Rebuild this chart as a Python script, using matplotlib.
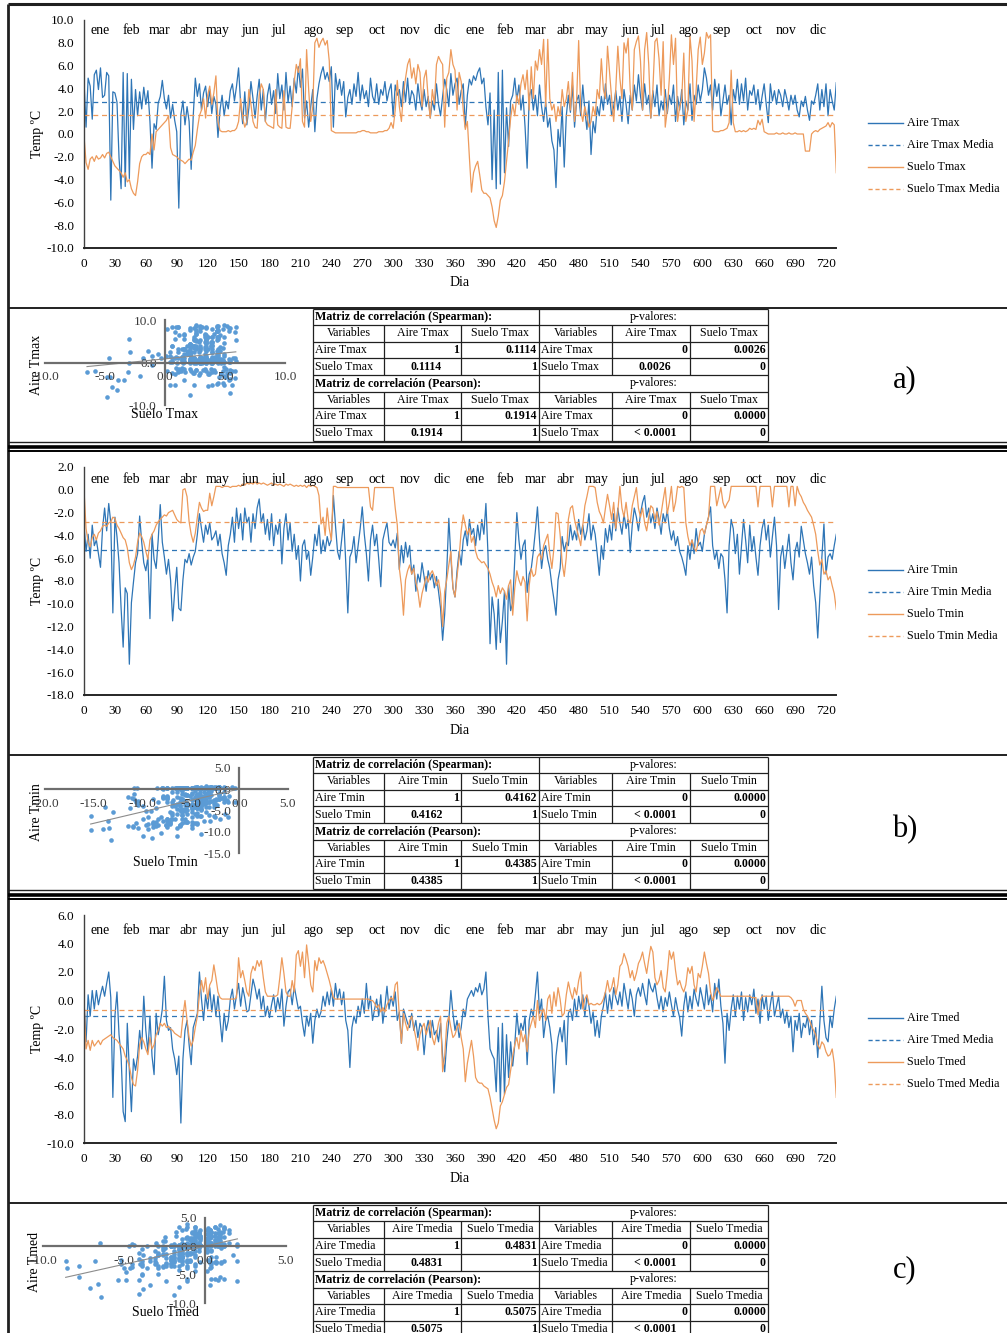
import numpy as np
import matplotlib.pyplot as plt
from matplotlib.ticker import FormatStrFormatter

W, H = 1007, 1333
plt.rcParams['font.family'] = ['Liberation Serif', 'DejaVu Serif']

AZUL = '#2E75B6'
NARANJA = '#ED9A5B'
PUNTO = '#5B9BD5'

# dia del registro (cada 2 dias)
dias = np.arange(0, 731, 2)

aire_tmax = [
    4.7, 0.6, 4.9, 4.2, 1.3, 5.2, 5.6, 3.9, 5.8, 3.2, 3.4, 5.4, 5.1, -5.8, 3.7,
    3.6, 2.8, -2.1, -4.8, 5.4, -4.6, 5.3, -3.9, 4.8, 0.4, 3.9, 1.6, 3.7, 2.2, 4.1,
    2.6, 3.8, 1.1, -3.0, 0.9, 0.4, 2.7, 3.3, 4.7, 3.1, 2.2, 3.4, 1.4, 2.6, 1.2,
    0.2, -6.5, 1.7, 2.9, 0.8, 2.4, 1.1, -3.1, 1.6, 4.9, 3.3, 4.4, 2.1, 3.6, 4.2,
    2.4, 3.9, 1.8, 3.3, 2.6, -0.3, 2.1, 3.4, 1.6, 2.9, 2.2, 3.8, 4.4, 2.9, 4.2,
    5.8, 2.6, 0.9, 3.7, 0.8, 2.3, 4.6, 3.1, 1.4, 3.3, 4.8, 2.1, 3.9, 1.1, 3.4,
    4.4, 2.6, 3.8, 1.8, 5.3, 3.1, 4.3, 2.1, 5.4, 2.8, 4.2, 2.4, 4.9, 3.6, 5.9,
    4.1, 5.7, 1.4, 2.9, 0.6, 2.4, 3.9, 0.2, 3.1, 4.4, 5.3, 5.9, 4.8, 5.4, 4.6,
    5.9, 0.6, 5.3, 3.9, 4.8, 3.4, 4.6, 1.5, 3.2, 3.9, 2.6, 4.4, 3.3, 5.4, 2.9,
    4.3, 3.1, 3.8, 2.4, 4.9, 3.3, 2.8, 4.4, 2.6, 3.9, 3.4, 4.6, 2.9, 3.8, 4.4,
    1.5, 4.3, 3.4, 3.9, 2.4, 4.6, 2.8, 4.9, 2.6, 3.8, 3.4, 2.1, 4.4, 2.9, 2.1,
    3.9, 2.4, 3.3, 1.4, 2.9, 2.1, 4.4, 2.6, 1.6, 3.3, 4.8, 3.9, 2.4, 5.3, 3.4,
    4.4, 4.9, 2.6, 3.8, 4.4, 0.6, 3.4, 4.8, 4.3, 5.1, 4.7, 5.4, 5.8, 4.4, 4.9,
    2.4, 0.8, 3.6, -4.0, 2.1, -4.8, 5.4, -4.4, 5.6, -3.4, 2.3, -1.1, 2.9, 3.4, 4.9,
    2.9, 4.3, 2.1, 3.4, 0.6, -3.0, 3.3, 3.9, 2.1, 3.4, 1.6, 4.3, 2.4, 1.1, 2.8,
    0.6, 1.4, -0.6, -1.4, -4.7, 0.4, -1.1, 2.4, -2.9, 1.6, 3.4, 1.9, 4.3, 0.6, 2.9,
    3.4, 1.6, 4.3, 2.1, 0.4, 2.9, -1.8, 1.1, 0.1, 2.4, 1.6, 3.3, 2.1, 4.4, 2.6,
    3.4, 1.6, 2.4, 3.8, 2.1, 3.3, 1.1, 3.9, 2.6, 0.9, 3.4, 2.1, 4.3, 2.9, 5.2,
    3.3, 2.1, 4.4, 2.6, 3.4, 1.4, 3.8, 2.4, 4.3, 1.6, 2.9, 2.1, 3.9, 1.8, 3.4,
    2.6, 4.3, 1.1, 3.3, 2.1, 3.9, 0.8, 2.9, 2.1, 4.4, 1.2, 3.4, 2.6, 4.3, 2.9,
    3.9, 5.8, 4.9, 3.4, 4.3, 2.1, 4.8, 3.3, 4.4, 1.6, 2.9, 4.3, 2.6, 3.4, 0.8,
    3.9, 2.9, 4.8, 2.6, 4.4, 2.9, 4.9, 2.1, 3.8, 3.4, 4.3, 2.6, 3.9, 2.1, 3.3,
    4.4, 2.6, 1.0, 4.4, 2.9, 3.8, 2.6, 3.9, 3.4, 2.4, 3.9, 3.1, 2.1, 3.4, 2.6,
    3.4, 2.1, 1.5, 2.9, 2.4, 3.3, 2.1, 1.2, 2.9, 2.6, 3.4, 4.4, 2.1, 3.9, 2.4,
    4.4, 1.6, 3.9, 2.9, 2.1, 4.5,
]

suelo_tmax = [
    -0.2, -2.5, -3.1, -2.2, -2.0, -2.4, -1.9, -2.2, -2.1, -1.8, -2.1, -1.7, -1.6, -2.0, -2.4,
    -2.8, -3.0, -3.2, -3.4, -3.8, -3.4, -4.2, -4.0, -4.8, -5.2, -5.4, -4.2, -2.6, -2.0, -1.8,
    -1.8, -1.6, -1.8, 0.0, -1.4, 0.2, 0.4, 0.6, 0.8, 1.0, 1.2, 1.6, -1.2, -1.8, -1.9,
    -2.0, -2.2, -2.3, -2.4, -2.6, -2.4, -2.2, -2.3, -1.6, -1.0, 0.4, 1.6, 2.1, 3.1, 1.4,
    3.4, 4.2, 2.6, 3.6, 5.1, 1.1, 0.3, 0.2, 0.2, 0.2, 0.3, 0.2, 0.3, 0.3, 0.5,
    1.1, 3.1, 1.4, 0.6, 1.1, 3.9, 2.6, 1.1, 0.6, 0.5, 3.4, 4.4, 3.9, 1.1, 0.8,
    0.7, 0.6, 0.5, 3.9, 0.8, 0.6, 0.5, 3.8, 0.6, 0.5, 0.5, 2.4, 4.6, 6.1, 5.4,
    6.6, 1.1, 0.6, 7.4, 3.9, 1.1, 2.4, 8.0, 8.4, 7.6, 8.1, 8.4, 7.8, 8.2, 6.4,
    0.3, 0.2, 0.1, 0.1, 0.1, 0.1, 0.1, 0.1, 0.1, 0.1, 0.1, 0.1, 0.1, 0.2, 0.2,
    0.3, 0.3, 0.2, 0.2, 0.1, 0.1, 0.1, 0.1, 0.2, 0.2, 0.2, 0.3, 0.3, 0.5, 1.0,
    0.5, 2.1, 4.7, 2.4, 1.1, 3.6, 4.9, 6.1, 6.6, 4.9, 5.8, 4.4, 6.1, 5.4, 2.4,
    4.9, 5.6, 3.1, 1.4, 3.9, 2.6, 6.1, 6.8, 6.4, 6.1, 0.6, 4.9, 5.4, 7.4, 6.1,
    5.6, 2.1, 5.4, 4.6, 2.1, 0.4, 1.1, -2.1, -5.1, -3.4, -2.8, -2.4, -3.6, -4.9, -5.2,
    -5.2, -5.4, -5.6, -6.4, -7.6, -8.2, -7.2, -5.8, -5.4, -4.2, -2.4, -0.6, 1.4, 2.6, 1.6,
    3.4, 2.6, 4.4, 5.2, 3.9, 5.6, 2.1, 5.9, 3.1, 6.4, 5.6, 7.4, 6.1, 8.3, 2.4,
    8.3, 3.1, 2.1, 2.6, 1.1, 2.4, 1.6, 3.9, 2.4, 3.1, 4.6, 2.1, 5.4, 1.1, 2.9,
    8.2, 2.1, 1.1, 2.4, 1.6, 0.6, 1.1, 2.4, 1.6, 3.9, 3.1, 6.6, 3.9, 3.1, 7.7,
    5.4, 3.1, 1.1, 3.9, 7.7, 4.9, 3.1, 8.0, 7.1, 8.4, 3.9, 2.1, 7.4, 8.1, 8.6,
    6.4, 2.1, 7.4, 8.9, 6.1, 1.4, 3.9, 8.1, 8.4, 6.6, 3.4, 8.1, 0.6, 2.1, 4.9,
    8.7, 6.1, 8.4, 1.1, 2.4, 3.1, 7.1, 1.1, 2.1, 8.6, 6.4, 1.1, 3.9, 7.4, 8.5,
    6.1, 7.1, 8.9, 8.4, 8.7, 0.3, 0.2, 0.2, 0.2, 0.3, 0.3, 0.4, 0.5, 1.0, 5.6,
    1.0, 0.2, 0.2, 0.3, 0.2, 0.3, 0.2, 0.3, 0.5, 0.4, 0.5, 0.4, 1.2, 0.8, 1.3,
    0.2, 0.1, 0.0, 0.0, 0.0, 0.0, 0.1, 0.0, 0.0, 0.1, 0.0, 0.0, 0.1, 0.0, 0.0,
    0.1, 0.0, 0.0, 0.0, 0.0, -1.5, -1.5, -1.5, 0.0, 0.2, 0.3, 0.2, 0.4, 0.5, 0.6,
    0.7, 1.0, 0.6, 1.0, 0.8, -3.4,
]

aire_tmin = [
    -3.1, -5.4, -3.9, -6.0, -3.1, -4.9, -4.4, -5.6, -6.8, -3.4, -1.6, -3.6, -1.2, -2.9, -10.8,
    -2.4, -4.1, -6.4, -10.4, -13.8, -8.6, -9.1, -15.3, -9.9, -8.1, -6.4, -5.6, -2.3, -4.6, -6.4,
    -7.1, -5.9, -11.3, -3.9, -6.1, -6.9, -4.4, -1.3, -4.6, -5.9, -7.4, -6.1, -7.9, -11.5, -8.9,
    -6.8, -10.4, -10.6, -7.9, -6.1, -6.4, -5.6, -6.6, -5.9, -5.4, -3.9, -2.1, -3.4, -4.6, -3.1,
    -3.9, -2.9, -4.4, -4.1, -3.6, -4.9, -3.9, -5.6, -6.4, -7.5, -4.9, -3.9, -2.4, -4.6, -1.6,
    -3.4, -2.1, -4.4, -1.6, -2.9, -2.4, -4.6, -2.1, -3.4, -1.6, -0.8, -2.9, -2.1, -3.9, -2.6,
    -4.4, -2.1, -4.9, -3.1, -3.9, -2.6, -6.5, -3.4, -2.1, -4.4, -2.9, -5.4, -3.9, -6.1, -4.9,
    -8.0, -4.9, -4.4, -6.1, -5.4, -7.5, -5.9, -3.9, -4.9, -3.1, -5.6, -4.4, -5.4, -4.1, -4.9,
    -4.4, -0.5, -3.1, -5.4, -6.1, -4.4, -2.6, -6.4, -10.8, -5.9, -5.4, -4.1, -6.4, -4.9, -3.4,
    -1.5, -3.9, -5.6, -8.0, -4.4, -3.1, -4.9, -3.9, -6.1, -8.5, -4.4, -3.6, -2.9, -4.6, -4.9,
    -4.4, -5.1, -3.8, -7.0, -4.9, -6.4, -4.6, -5.9, -4.9, -7.4, -6.6, -8.9, -7.4, -8.1, -6.4,
    -7.6, -8.9, -7.1, -7.9, -7.4, -8.6, -7.6, -8.9, -10.4, -13.2, -10.9, -7.1, -2.5, -5.9, -8.6,
    -9.4, -7.1, -5.4, -6.6, -4.4, -3.6, -4.9, -2.6, -3.9, -3.4, -4.9, -3.1, -4.4, -2.6, -3.9,
    -1.2, -5.6, -13.5, -9.4, -10.9, -14.0, -9.6, -13.4, -11.5, -8.9, -15.3, -8.4, -10.6, -9.9, -6.1,
    -2.0, -4.4, -6.1, -4.9, -4.4, -9.0, -7.4, -6.9, -5.4, -3.6, -1.5, -4.4, -6.9, -5.4, -4.9,
    -6.1, -6.9, -8.4, -9.6, -11.0, -7.9, -6.9, -4.1, -5.4, -4.6, -4.9, -3.1, -4.4, -3.6, -4.4,
    -2.6, -3.9, -3.1, -4.4, -3.6, -2.1, -4.4, -3.1, -3.9, -5.6, -7.5, -4.9, -6.1, -3.4, -4.6,
    -3.1, -4.4, -2.1, -3.6, -1.6, -2.9, -3.9, -2.1, -3.4, -2.6, -5.5, -3.1, -1.6, -2.4, -3.6,
    -2.1, -1.1, -0.5, -2.4, -1.6, -2.9, -2.1, -3.4, -1.6, -2.6, -3.9, -2.1, -2.9, -1.8, -3.4,
    -4.4, -3.6, -4.9, -4.1, -5.4, -5.9, -6.6, -7.5, -4.9, -6.1, -4.4, -5.6, -3.4, -4.9, -4.6,
    -5.4, -3.9, -3.1, -2.4, -1.5, -4.9, -6.1, -5.4, -6.9, -5.6, -5.9, -7.9, -10.8, -4.9, -2.6,
    -3.4, -5.6, -3.9, -7.4, -4.9, -2.6, -4.4, -6.4, -3.1, -5.4, -4.1, -5.9, -7.5, -4.9, -3.4,
    -2.6, -4.4, -3.1, -5.9, -4.1, -2.4, -4.9, -10.5, -5.9, -4.9, -6.9, -5.4, -3.9, -6.4, -7.9,
    -5.4, -4.6, -5.9, -3.2, -4.4, -5.6, -6.4, -7.4, -5.9, -8.4, -9.9, -13.0, -9.4, -5.9, -3.0,
    -7.4, -5.9, -5.6, -6.1, -4.9, -3.9,
]

suelo_tmin = [
    0.0, -3.4, -4.6, -5.0, -4.2, -3.9, -4.4, -3.8, -3.6, -3.2, -3.1, -3.2, -2.9, -2.8, -2.4,
    -2.5, -3.1, -3.4, -3.8, -4.2, -4.4, -5.1, -6.4, -7.0, -6.6, -5.9, -4.6, -3.8, -4.1, -4.6,
    -5.4, -6.1, -4.4, -3.9, -3.6, -3.1, -2.8, -2.6, -2.4, -2.2, -2.3, -2.0, -1.9, -1.8, -2.2,
    -2.6, -2.8, -2.9, 0.0, 0.1, -0.6, -2.8, -3.9, -4.6, -3.8, -2.4, -1.1, -1.6, -1.9, -1.8,
    -1.8, -0.3, -1.4, -0.6, 0.3, 0.3, 0.3, 0.2, 0.3, 0.3, 0.3, 0.2, 0.3, 0.3, 0.3,
    0.4, 0.3, 0.5, 0.4, 0.6, 0.5, 0.6, 0.5, 0.7, 0.5, 0.6, 0.5, 0.6, 0.5, 0.4,
    0.5, 0.6, 0.4, 0.5, 0.4, 0.5, 0.4, 0.3, 0.5, 0.4, 0.5, 0.4, 0.3, 0.4, 0.3,
    0.4, 0.3, 0.4, 0.2, 0.4, 0.3, 0.4, 0.3, 0.2, -0.5, -3.0, -2.4, -4.0, -1.6, -3.4,
    -4.4, 0.3, 0.3, 0.2, 0.2, 0.2, 0.2, 0.2, 0.2, 0.2, 0.2, 0.2, 0.2, 0.2, 0.2,
    0.2, 0.2, 0.2, 0.2, -1.5, -1.8, 0.2, 0.2, 0.2, 0.2, 0.2, 0.2, 0.2, 0.2, 0.2,
    0.2, -1.6, -3.1, -6.9, -8.4, -11.0, -7.9, -7.1, -6.6, -7.4, -6.9, -8.1, -8.9, -10.3, -9.1,
    -8.4, -7.6, -8.1, -7.4, -7.1, -7.6, -8.4, -7.9, -9.1, -12.0, -8.9, -7.9, -6.6, -5.4, -8.6,
    -9.4, -7.6, -5.9, -3.6, -2.2, -3.1, -3.9, -3.4, -4.6, -4.1, -5.4, -6.0, -6.2, -6.4, -6.3,
    -6.6, -6.9, -7.4, -8.1, -8.6, -9.4, -8.4, -9.1, -8.6, -8.9, -9.6, -8.4, -7.9, -11.0, -8.6,
    -7.1, -7.9, -8.4, -7.6, -8.1, -11.5, -8.4, -6.9, -7.6, -7.4, -5.9, -5.6, -6.1, -4.9, -4.4,
    -3.9, -5.6, -6.9, -5.1, -2.0, -2.1, -3.9, -6.4, -7.6, -5.9, -2.6, -1.6, -1.4, -2.6, -3.4,
    -4.1, -4.9, -3.1, -1.4, -0.6, 0.3, 0.3, 0.3, 0.2, -1.1, -1.9, -2.3, -2.9, -1.6, -0.4,
    -1.4, -2.6, -1.1, -3.4, -1.9, 0.3, -1.6, -2.4, -1.1, -2.6, -2.9, -1.4, -0.6, 0.2, -1.6,
    -2.4, -1.6, -2.9, -3.6, -2.4, -1.4, -1.6, -2.6, -1.9, -3.1, -2.1, -0.9, 0.2, -2.1, -1.1,
    0.3, -1.9, -1.1, 0.3, 0.2, 0.3, 0.2, -2.9, -4.1, -4.9, -4.4, -5.1, -5.4, -4.6, -3.6,
    -3.4, -3.9, -3.1, -2.4, 0.3, 0.3, 0.3, -1.4, -0.6, 0.2, -1.1, -1.6, -1.2, -0.9, 0.3,
    0.3, 0.3, 0.3, 0.3, 0.3, 0.3, 0.3, 0.3, 0.3, 0.3, 0.3, 0.3, -1.5, 0.3, 0.3,
    0.3, 0.3, 0.3, 0.3, -1.5, 0.3, 0.3, 0.3, 0.3, 0.3, 0.3, 0.3, -1.5, 0.3, 0.3,
    -1.4, 0.3, -0.3, -0.6, -1.1, -1.4, -1.8, -2.1, -2.4, -3.1, -3.9, -5.4, -6.6, -6.1, -7.4,
    -7.1, -7.9, -7.6, -8.4, -9.1, -10.5,
]

aire_tmed = [
    0.0, -2.9, 0.4, -1.1, 0.7, -0.6, 0.7, -0.3, 0.4, 1.0, 0.3, 1.2, 2.0, 0.2, -6.8,
    -1.1, 0.6, -2.4, -3.9, -7.8, -8.5, -1.6, -4.9, -7.8, -4.1, -4.9, -3.9, -2.1, -3.4, 0.3,
    -2.1, -3.6, -1.1, -3.9, -5.2, -0.9, -2.4, -1.6, -0.6, 1.7, -1.4, -2.1, -1.9, -3.4, -4.1,
    -5.2, -3.9, -8.6, -4.1, -2.1, -1.4, -3.1, -4.5, -1.9, -1.4, -0.9, 2.0, 0.1, -1.4, 0.4,
    -0.6, 0.9, -0.8, 0.4, -1.1, 0.3, -1.4, -2.9, -0.9, -2.1, -1.4, 0.1, 0.8, -0.6, 0.4,
    1.2, -0.4, 0.9, 0.2, -0.8, -0.7, 0.4, 1.5, 0.9, 0.1, 0.8, -0.6, 0.3, -1.1, -0.4,
    -1.2, -0.3, 0.4, -0.8, 0.2, -0.6, 0.8, -1.8, -0.4, 0.6, 0.8, -0.3, 1.0, 0.2, -0.6,
    -0.4, -1.6, -2.5, -1.1, -1.8, -0.9, -3.0, -1.4, -0.6, -1.2, -0.8, 0.3, -0.4, 0.6, -0.3,
    0.8, -0.4, 1.2, 0.1, 0.8, -0.3, 0.6, -1.4, -2.1, -4.7, -1.9, -1.1, -1.6, -0.4, -1.1,
    0.1, -0.9, 1.2, -0.6, 0.3, -1.4, -0.6, 0.1, -1.1, 0.4, -1.6, -0.4, 1.0, -0.6, 0.3,
    -0.4, 0.6, -1.4, -0.8, -3.0, -0.6, -1.1, -1.6, -1.9, -0.9, -2.1, -1.4, -2.6, -1.6, -1.9,
    -3.8, -2.1, -1.4, -2.6, -1.4, -2.4, -2.1, -2.9, -1.6, -3.9, -5.0, -2.9, -1.4, 0.7, -0.9,
    -2.1, -1.4, -2.6, -1.9, -0.6, -1.1, 0.1, 0.4, 0.7, 0.3, 0.9, 0.6, 1.2, 0.4, 0.8,
    2.0, -1.1, -3.4, -3.8, -4.1, -6.4, -1.9, -7.1, -1.6, -6.6, -2.4, -5.4, -2.9, -4.6, -3.1,
    -0.9, -2.4, -1.6, -2.1, -1.1, -4.5, -1.4, -0.6, -1.1, 0.4, 2.0, -0.9, 0.1, -2.6, -1.4,
    -1.1, -1.9, -3.1, -6.5, -3.9, -2.6, -1.9, -2.9, -1.4, -4.5, -0.9, -0.6, -1.4, 0.1, -1.1,
    0.3, -0.6, 0.4, -1.1, 0.3, -0.4, -1.6, -0.8, -2.5, -1.4, -2.6, -1.1, -0.4, 0.6, -0.9,
    0.4, -0.6, 0.9, 0.2, -0.3, 0.6, -0.4, 1.2, 0.3, -0.6, 0.8, 0.1, -1.1, 0.4, 0.9,
    0.3, 1.2, 0.4, -0.3, 1.5, 0.9, 0.6, 1.2, 0.2, -0.6, 0.3, -0.8, 0.2, -0.4, 0.6,
    -0.3, -1.1, 0.2, -0.6, -1.2, -2.5, -0.4, 0.6, -0.8, 0.3, -0.6, 0.8, 0.1, -0.4, 0.9,
    0.2, -0.6, 1.1, -0.3, 0.4, -0.8, 1.2, 0.1, 1.5, -0.4, -1.6, -4.4, -0.9, -2.1, -0.6,
    0.4, -1.1, 0.3, -0.6, 0.6, -1.4, 0.2, -0.8, 0.4, -0.3, 0.8, -0.9, 0.1, -1.6, 0.4,
    -0.6, 0.3, -1.4, -0.3, 0.6, -1.1, -0.4, 0.3, -1.2, -0.6, -1.6, -0.8, -1.9, -1.1, -3.6,
    -1.4, -2.1, -0.9, -2.6, -1.6, -1.9, -1.1, -2.4, -1.4, -3.1, -1.9, -4.0, -1.6, 1.0, -1.4,
    -2.6, -2.9, -1.1, -1.9, -0.6, 0.3,
]

suelo_tmed = [
    0.0, -3.4, -2.8, -3.5, -2.8, -3.2, -3.0, -2.8, -3.1, -2.8, -2.7, -2.6, -2.5, -2.4, -2.6,
    -2.7, -2.8, -3.0, -3.2, -3.4, -3.9, -4.2, -4.6, -5.4, -5.9, -6.0, -4.9, -3.1, -2.6, -2.9,
    -3.4, -3.8, -2.6, -3.4, -3.1, -2.4, -2.1, -1.6, -1.8, -1.6, -1.9, -1.8, -2.0, -2.1, -2.3,
    -2.4, -2.5, -2.6, -1.1, 0.0, -1.4, -2.6, -3.2, -2.8, -1.9, -1.1, 0.4, 1.4, 0.6, 1.6,
    0.1, 1.1, 1.4, 2.5, 1.6, 0.6, 0.2, 0.1, 0.1, 0.1, 0.1, 0.1, 0.1, 0.1, 0.2,
    3.0, 1.6, 2.1, 1.4, 0.6, 0.3, 1.9, 2.4, 2.1, 2.8, 2.4, 2.8, 1.6, 0.6, 0.3,
    0.3, 0.3, 0.3, 0.3, 0.4, 1.6, 3.0, 1.9, 0.6, 0.3, 0.3, 1.4, 0.6, 3.2, 3.5,
    2.4, 3.4, 1.6, 3.9, 2.6, 1.1, 0.6, 2.8, 2.1, 3.0, 2.6, 2.8, 2.4, 1.9, 1.4,
    0.8, 0.2, 0.1, 0.1, 0.1, 0.1, 0.1, 0.1, 0.1, 0.1, 0.1, 0.1, 0.1, 0.1, 0.1,
    0.1, 0.1, 0.1, 0.1, 0.0, 0.0, -0.2, -0.5, -0.3, -0.8, -0.5, -0.8, -0.3, 0.0, 0.2,
    0.0, 1.1, 1.3, -1.1, -3.0, -0.9, -1.6, -2.1, -1.4, -1.1, -1.9, -2.6, -3.5, -2.4, -1.9,
    -1.6, -2.4, -1.9, -1.4, -2.6, -3.1, -2.4, -1.6, -1.1, -5.0, -3.9, -1.6, -1.1, -1.9, -2.6,
    -2.4, -1.9, -1.6, -2.6, -3.4, -5.7, -4.4, -3.6, -2.8, -3.9, -5.4, -5.7, -5.8, -5.8, -6.0,
    -6.1, -6.2, -6.8, -7.6, -8.4, -9.0, -8.6, -7.4, -7.1, -6.6, -6.1, -5.9, -4.9, -3.9, -3.1,
    -2.6, -3.4, -2.1, -2.9, -2.4, -3.6, -2.1, -1.6, -1.1, -1.9, 0.0, -1.4, -0.9, -0.6, -1.4,
    0.1, 0.4, -0.9, 0.6, -0.4, 0.9, 0.1, -1.1, -0.9, 0.4, 1.3, 0.6, 0.1, 0.9, 0.4,
    1.4, 2.0, -0.6, 0.1, 0.4, -0.3, -0.2, -0.3, -0.3, -0.2, -0.3, -0.2, 0.1, 0.6, 1.4,
    0.6, 0.9, 1.6, 0.4, 1.1, 2.4, 2.6, 3.3, 2.9, 2.4, 1.6, 2.1, 1.4, 1.9, 2.6,
    2.9, 3.4, 2.6, 1.9, 2.9, 3.8, 3.4, 1.6, 1.1, 1.4, 2.1, 0.9, 0.6, 1.9, 3.5,
    2.9, 3.4, 2.1, 1.1, 1.4, 0.9, 0.6, 1.1, 2.3, 1.9, 2.4, 1.1, 0.6, 1.9, 1.6,
    2.4, 3.4, 2.6, 1.9, 0.6, 0.0, 0.4, 0.9, 0.6, 0.3, 0.3, 0.3, 0.3, 0.3, 0.3,
    0.3, 0.3, 0.3, 0.3, 0.3, 0.3, 0.3, 0.3, 0.3, 0.2, 0.2, 0.2, -1.0, 0.0, 0.3,
    0.3, 0.3, 0.3, 0.3, 0.3, 0.3, 0.3, 0.3, 0.3, 0.3, 0.3, 0.3, 0.3, 0.2, 0.0,
    -0.4, 0.0, 0.0, 0.0, -0.6, -0.9, -1.1, -1.4, -1.8, -2.1, -2.4, -3.1, -3.4, -2.9, -3.1,
    -3.6, -3.9, -3.8, -3.4, -4.4, -6.8,
]

meses = ['ene', 'feb', 'mar', 'abr', 'may', 'jun', 'jul', 'ago', 'sep', 'oct', 'nov', 'dic']
# posicion (dia) de cada rotulo de mes, dos anos seguidos
mes_x = [15.5, 45.6, 73.7, 100.9, 130, 161, 189, 223, 253, 284, 316, 347,
         380, 408.5, 438.6, 466.7, 497.8, 529.8, 557, 587, 619, 650, 681, 712]

# coeficientes y p-valores (Spearman, Pearson)
corr_tmax = ['0.1114', '0.0026', '0.0026', '0.1914', '0.0000', '< 0.0001']
corr_tmin = ['0.4162', '0.0000', '< 0.0001', '0.4385', '0.0000', '< 0.0001']
corr_tmed = ['0.4831', '0.0000', '< 0.0001', '0.5075', '0.0000', '< 0.0001']

fig = plt.figure(figsize=(W / 100, H / 100), dpi=100)
bg = fig.add_axes([0, 0, 1, 1])
bg.set_xlim(0, W)
bg.set_ylim(H, 0)
bg.axis('off')


def px_axes(x0, y0, x1, y1):
    ax = fig.add_axes([x0 / W, 1 - y1 / H, (x1 - x0) / W, (y1 - y0) / H])
    ax.set_facecolor('none')
    return ax


def hline(y, x0=8, x1=W, lw=1.2, c='#202020'):
    bg.plot([x0, x1], [y, y], color=c, lw=lw, solid_capstyle='butt')


def vline(x, y0, y1, lw=1.2, c='#202020'):
    bg.plot([x, x], [y0, y1], color=c, lw=lw, solid_capstyle='butt')


def serie(top, bot, ylim, aire, suelo, nombre, leg_y, mes_y):
    ax = px_axes(84, top, 836.3, bot)
    ax.plot(dias, aire, color=AZUL, lw=0.9)
    ax.axhline(np.mean(aire), color=AZUL, lw=0.9, ls=(0, (4, 3)))
    ax.plot(dias, suelo, color=NARANJA, lw=0.9)
    ax.axhline(np.mean(suelo), color=NARANJA, lw=0.9, ls=(0, (4, 3)))
    ax.set_xlim(0, 730)
    ax.set_ylim(*ylim)
    ax.set_xticks(range(0, 721, 30))
    ax.set_yticks(np.arange(ylim[0], ylim[1] + 0.01, 2))
    ax.yaxis.set_major_formatter(FormatStrFormatter('%.1f'))
    for s in ('top', 'right'):
        ax.spines[s].set_visible(False)
    ax.spines['left'].set_color('#404040')
    ax.spines['left'].set_linewidth(1.0)
    ax.spines['bottom'].set_color('#262626')
    ax.spines['bottom'].set_linewidth(1.4)
    ax.tick_params(length=0, pad=7, labelsize=9.5)
    for i, x in enumerate(mes_x):
        ax.text(x, mes_y, meses[i % 12], fontsize=10, ha='center', va='center',
                transform=ax.get_xaxis_transform())
    yc = (top + bot) / 2
    bg.text(37, yc, 'Temp \u00baC', rotation=90, fontsize=10, ha='center', va='center')
    bg.text(460, bot + 35, 'Dia', fontsize=10, ha='center', va='center')
    etiquetas = ['Aire ' + nombre, 'Aire ' + nombre + ' Media',
                 'Suelo ' + nombre, 'Suelo ' + nombre + ' Media']
    estilos = [(AZUL, '-'), (AZUL, (0, (3, 2))), (NARANJA, '-'), (NARANJA, (0, (3, 2)))]
    for k, (lab, (c, ls)) in enumerate(zip(etiquetas, estilos)):
        y = leg_y + 22 * k
        bg.plot([868, 903], [y, y], color=c, ls=ls, lw=1.0)
        bg.text(907, y, lab, fontsize=8.7, va='center', ha='left')
    return ax


def dispersion(box, xlim, ylim, xt, yt, aire, suelo, nombre, lab_pos):
    ax = px_axes(*box)
    aire = np.asarray(aire)
    suelo = np.asarray(suelo)
    ax.scatter(aire, suelo, s=11, color=PUNTO, linewidths=0, zorder=1)
    m, b = np.polyfit(aire, suelo, 1)
    xs = np.array([aire.min(), aire.max()])
    ax.plot(xs, m * xs + b, color='#8C8C8C', lw=0.8, zorder=2)
    ax.set_xlim(*xlim)
    ax.set_ylim(*ylim)
    for s in ('top', 'right'):
        ax.spines[s].set_visible(False)
    for s in ('left', 'bottom'):
        ax.spines[s].set_position(('data', 0))
        ax.spines[s].set_color('#6E6E6E')
        ax.spines[s].set_linewidth(1.6)
    ax.set_xticks(xt)
    ax.set_yticks(yt)
    ax.xaxis.set_major_formatter(FormatStrFormatter('%.1f'))
    ax.yaxis.set_major_formatter(FormatStrFormatter('%.1f'))
    ax.tick_params(length=0, pad=6, labelsize=9.5, labelcolor='#3A3A3A')
    (xs_lab, ys_lab), (xa_lab, ya_lab) = lab_pos
    bg.text(xs_lab, ys_lab, 'Suelo ' + nombre, fontsize=10, ha='center', va='center')
    bg.text(xa_lab, ya_lab, 'Aire ' + nombre, fontsize=10, rotation=90,
            ha='center', va='center')


def tabla(top, var, vals):
    cols = [313, 384, 461, 539, 612, 690, 768]
    rh = 16.6
    ys = [top + rh * i for i in range(9)]
    a, s = 'Aire ' + var, 'Suelo ' + var
    for y in ys:
        hline(y, cols[0], cols[-1], lw=0.9)
    for x in (cols[0], cols[3], cols[-1]):
        vline(x, ys[0], ys[-1], lw=0.9)
    for x in (cols[1], cols[2], cols[4], cols[5]):
        vline(x, ys[1], ys[4], lw=0.9)
        vline(x, ys[5], ys[8], lw=0.9)
    fs = 8.6

    def yc(r):
        return (ys[r] + ys[r + 1]) / 2

    for blk, titulo in enumerate(['Matriz de correlaci\u00f3n (Spearman):',
                                  'Matriz de correlaci\u00f3n (Pearson):']):
        r0 = 4 * blk
        rho, p1, p2 = vals[3 * blk: 3 * blk + 3]
        bg.text(cols[0] + 2, yc(r0), titulo, fontsize=fs, fontweight='bold',
                ha='left', va='center')
        bg.text((cols[3] + cols[6]) / 2, yc(r0), 'p-valores:', fontsize=fs,
                ha='center', va='center')
        for j, t in enumerate(['Variables', a, s, 'Variables', a, s]):
            bg.text((cols[j] + cols[j + 1]) / 2, yc(r0 + 1), t, fontsize=fs,
                    ha='center', va='center')
        filas = [[a, '1', rho, a, '0', p1], [s, rho, '1', s, p2, '0']]
        for k, fila in enumerate(filas):
            r = r0 + 2 + k
            for j, t in enumerate(fila):
                if j in (0, 3):
                    bg.text(cols[j] + 2, yc(r), t, fontsize=fs, ha='left', va='center')
                elif k == 1 and j in (1, 4):
                    bg.text((cols[j] + cols[j + 1]) / 2 + 4, yc(r), t, fontsize=fs,
                            fontweight='bold', ha='center', va='center')
                else:
                    bg.text(cols[j + 1] - 2, yc(r), t, fontsize=fs, fontweight='bold',
                            ha='right', va='center')


# marcos
hline(4, lw=2.2)
vline(8, 4, H, lw=2.0)
for y in (308, 755, 1203):
    hline(y, lw=1.4)
for y in (442, 890):
    hline(y, lw=1.0)
for y in (447, 895):
    hline(y, lw=2.6, c='black')
    hline(y + 3.5, lw=1.4, c='black')

serie(20, 248, (-10, 10), aire_tmax, suelo_tmax, 'Tmax', 123, 0.952)
serie(467, 695, (-18, 2), aire_tmin, suelo_tmin, 'Tmin', 570, 0.947)
serie(915, 1143, (-10, 6), aire_tmed, suelo_tmed, 'Tmed', 1018, 0.934)

dispersion((45, 320, 285, 405), (-10, 10), (-10, 10), [-10, -5, 0, 5, 10], [-10, 0, 10],
           aire_tmax, suelo_tmax, 'Tmax', ((165, 415), (37, 365)))
dispersion((45, 768, 288, 853), (-20, 5), (-15, 5), [-20, -15, -10, -5, 0, 5],
           [-15, -10, -5, 0, 5], aire_tmin, suelo_tmin, 'Tmin', ((165, 863), (37, 812)))
dispersion((43, 1218, 286, 1303), (-10, 5), (-10, 5), [-10, -5, 0, 5], [-10, -5, 0, 5],
           aire_tmed, suelo_tmed, 'Tmed', ((165, 1312), (35, 1262)))

tabla(308.5, 'Tmax', corr_tmax)
tabla(756.5, 'Tmin', corr_tmin)
tabla(1204.5, 'Tmedia', corr_tmed)

for lab, y in (('a)', 380), ('b)', 830), ('c)', 1270)):
    bg.text(905, y, lab, fontsize=22, ha='center', va='center')

fig.savefig('out.png', dpi=100)
